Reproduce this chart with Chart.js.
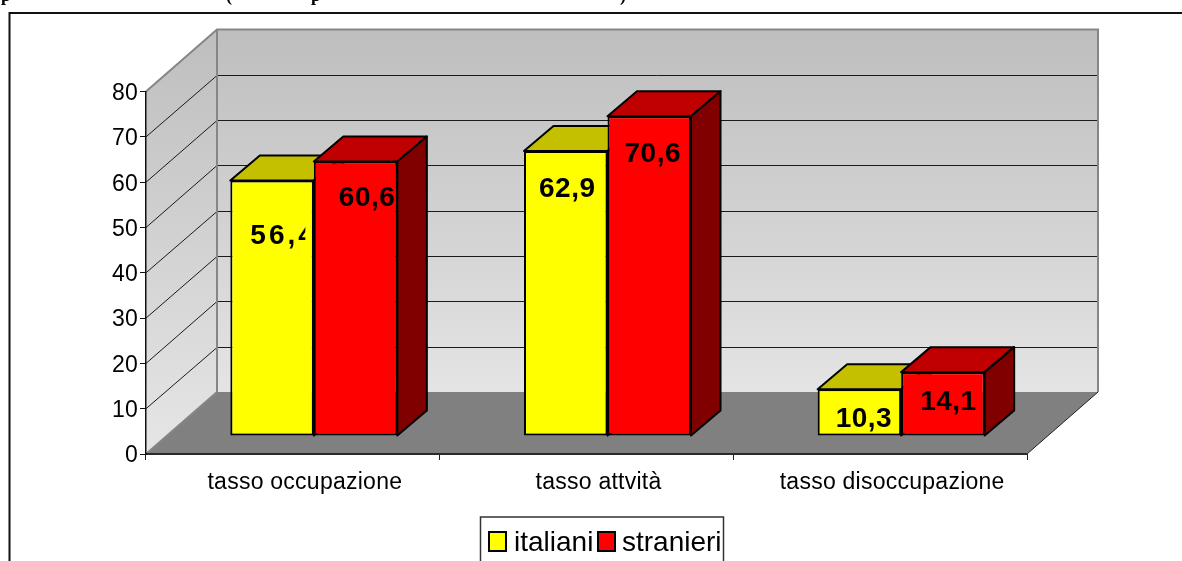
<!DOCTYPE html>
<html>
<head>
<meta charset="utf-8">
<style>
html,body{margin:0;padding:0;background:#fff;overflow:hidden}
#wrap{position:relative;width:1182px;height:561px}
canvas{display:block}
</style>
<script src="https://cdn.jsdelivr.net/npm/chart.js@4"></script>
</head>
<body>
<div id="wrap"><canvas id="c" width="1182" height="561"></canvas></div>
<script>
const categories = ['tasso occupazione', 'tasso attvità', 'tasso disoccupazione'];
const italiani = [56.4, 62.9, 10.3];
const stranieri = [60.6, 70.6, 14.1];
const yTicks = [0, 10, 20, 30, 40, 50, 60, 70, 80];

// label placement inside each bar: [from bar left, from bar top, letter spacing, clip width]
const labelPlacement = [
  [[20, 63, 3, 75], [15, 46, 0.5, 0], [18, 38, 0.5, 0]],
  [[25, 45, 0.5, 0], [17, 46, 0.5, 0], [19, 38, 0.5, 0]]
];
const faceColors = [
  {top: '#c4c000', side: '#808000'},
  {top: '#c00000', side: '#800000'}
];
// depth of the room and of the bars, and the shift of the bar row on the floor
const ROOM = {dx: 71, dy: -62};
const BAR = {dx: 29.5, dy: -25};
const ROW = {dx: 21, dy: -18};

function poly(ctx, pts, fill, stroke, lw) {
  ctx.beginPath();
  pts.forEach((p, i) => i ? ctx.lineTo(p[0], p[1]) : ctx.moveTo(p[0], p[1]));
  ctx.closePath();
  if (fill) { ctx.fillStyle = fill; ctx.fill(); }
  if (stroke) { ctx.strokeStyle = stroke; ctx.lineWidth = lw || 1; ctx.stroke(); }
}

// one series: its top and side faces, then the library's own bars as front faces
function drawSeries(chart, index) {
  const {ctx} = chart;
  const meta = chart.getDatasetMeta(index);
  const colors = faceColors[index];
  ctx.save();
  ctx.translate(ROW.dx, ROW.dy);
  ctx.lineJoin = 'round';
  meta.data.forEach(el => {
    const l = el.x - el.width / 2, r = el.x + el.width / 2, t = el.y, b = el.base;
    poly(ctx, [[l, t], [l + BAR.dx, t + BAR.dy], [r + BAR.dx, t + BAR.dy], [r, t]], colors.top, '#000', 2);
    poly(ctx, [[r, t], [r + BAR.dx, t + BAR.dy], [r + BAR.dx, b + BAR.dy], [r, b]], colors.side, '#000', 2);
  });
  meta.controller.draw();
  ctx.restore();
}

const room3d = {
  id: 'room3d',
  beforeDraw(chart) {
    const {ctx, scales: {x, y}} = chart;
    const L = x.left, R = x.right, B = y.getPixelForValue(0), T = y.getPixelForValue(80);
    ctx.save();
    ctx.letterSpacing = '0px';
    ctx.fillStyle = '#fff';
    ctx.fillRect(0, 0, chart.width, chart.height);

    // outer frame (open on the right and at the bottom)
    ctx.strokeStyle = '#111';
    ctx.lineWidth = 2;
    ctx.beginPath();
    ctx.moveTo(9.5, 561); ctx.lineTo(9.5, 13); ctx.lineTo(1182, 13);
    ctx.stroke();

    // clipped heading above the frame
    ctx.fillStyle = '#000';
    ctx.font = 'bold 18px "Liberation Serif"';
    ctx.textBaseline = 'alphabetic';
    ctx.textAlign = 'left';
    [['p', 1], ['(', 226], ['p', 311], [')', 620]].forEach(h => ctx.fillText(h[0], h[1], 0.5));

    const g = ctx.createLinearGradient(0, T + ROOM.dy, 0, B + ROOM.dy);
    g.addColorStop(0, '#bebebe');
    g.addColorStop(1, '#e4e4e4');
    const g2 = ctx.createLinearGradient(0, T + ROOM.dy, 0, B);
    g2.addColorStop(0, '#bebebe');
    g2.addColorStop(1, '#e6e6e6');

    // back wall, side wall, floor
    poly(ctx, [[L + ROOM.dx, T + ROOM.dy], [R + ROOM.dx, T + ROOM.dy], [R + ROOM.dx, B + ROOM.dy], [L + ROOM.dx, B + ROOM.dy]], g);
    poly(ctx, [[L, T], [L + ROOM.dx, T + ROOM.dy], [L + ROOM.dx, B + ROOM.dy], [L, B]], g2);

    // grid lines on both walls
    ctx.strokeStyle = '#1a1a1a';
    ctx.lineWidth = 1;
    y.ticks.forEach(t => {
      if (t.value === 0 || t.value === 80) return;
      const py = y.getPixelForValue(t.value);
      const by = Math.round(py + ROOM.dy) + 0.5;
      ctx.beginPath();
      ctx.moveTo(L, py);
      ctx.lineTo(L + ROOM.dx, by);
      ctx.lineTo(R + ROOM.dx, by);
      ctx.stroke();
    });

    poly(ctx, [[L, B], [L + ROOM.dx, B + ROOM.dy], [R + ROOM.dx, B + ROOM.dy], [R, B]], '#808080');

    // room edges
    ctx.strokeStyle = '#868686';
    ctx.lineWidth = 2;
    ctx.beginPath();
    ctx.moveTo(L, T);
    ctx.lineTo(L + ROOM.dx, T + ROOM.dy);
    ctx.lineTo(R + ROOM.dx, T + ROOM.dy);
    ctx.lineTo(R + ROOM.dx, B + ROOM.dy);
    ctx.moveTo(L + ROOM.dx, T + ROOM.dy);
    ctx.lineTo(L + ROOM.dx, B + ROOM.dy);
    ctx.lineTo(L, B);
    ctx.stroke();
    ctx.strokeStyle = '#222';
    ctx.lineWidth = 1;
    ctx.beginPath();
    ctx.moveTo(R, B);
    ctx.lineTo(R + ROOM.dx, B + ROOM.dy);
    ctx.stroke();
    ctx.restore();
    ctx.letterSpacing = '0.25px';
  },
  // the library paints the left series last; here the right one must sit in front
  beforeDatasetDraw() {
    return false;
  },
  afterDatasetsDraw(chart) {
    const {ctx} = chart;
    [0, 1].forEach(ds => drawSeries(chart, ds));
    [0, 1].forEach(ds => {
      const meta = chart.getDatasetMeta(ds);
      meta.data.forEach((el, i) => {
        const [fromLeft, fromTop, spacing, clipW] = labelPlacement[ds][i];
        const left = el.x - el.width / 2 + ROW.dx;
        const top = el.y + ROW.dy;
        const text = chart.data.datasets[ds].data[i].toFixed(1).replace('.', ',');
        ctx.save();
        if (clipW) { ctx.beginPath(); ctx.rect(left, top, clipW, el.base - el.y); ctx.clip(); }
        ctx.letterSpacing = spacing + 'px';
        ctx.font = 'bold 28px "Liberation Sans"';
        ctx.fillStyle = '#000';
        ctx.textAlign = 'left';
        ctx.textBaseline = 'alphabetic';
        ctx.fillText(text, left + fromLeft, top + fromTop);
        ctx.restore();
      });
    });
  },
  afterDraw(chart) {
    const {ctx} = chart;
    ctx.save();
    ctx.letterSpacing = '0px';
    ctx.fillStyle = '#fff';
    ctx.fillRect(480, 517, 243, 50);
    ctx.strokeStyle = '#333';
    ctx.lineWidth = 1.5;
    ctx.strokeRect(480.5, 517, 243, 50);
    ctx.font = '28px "Liberation Sans"';
    ctx.textBaseline = 'alphabetic';
    ctx.textAlign = 'left';
    const items = [[489, 514], [598, 622]];
    chart.data.datasets.forEach((d, i) => {
      ctx.fillStyle = d.backgroundColor;
      ctx.fillRect(items[i][0], 532, 17, 19);
      ctx.strokeStyle = '#000';
      ctx.lineWidth = 2;
      ctx.strokeRect(items[i][0], 532, 17, 19);
      ctx.fillStyle = '#000';
      ctx.fillText(d.label, items[i][1], 551);
    });
    ctx.restore();
  }
};

new Chart(document.getElementById('c'), {
  type: 'bar',
  data: {
    labels: categories,
    datasets: [
      {label: 'italiani', data: italiani, backgroundColor: '#ffff00', borderColor: '#000', borderWidth: 2, borderSkipped: false},
      {label: 'stranieri', data: stranieri, backgroundColor: '#ff0000', borderColor: '#000', borderWidth: 2, borderSkipped: false}
    ]
  },
  plugins: [room3d],
  options: {
    responsive: false,
    animation: false,
    layout: {padding: {left: 0, right: 155, top: 91.6, bottom: 0}},
    datasets: {bar: {barPercentage: 1, categoryPercentage: 0.5687}},
    plugins: {legend: {display: false}, title: {display: false}, tooltip: {enabled: false}},
    scales: {
      x: {
        afterFit(s) { s.height = 107; },
        grid: {drawOnChartArea: false, offset: true, color: '#222', tickLength: 6, tickColor: '#222', lineWidth: 1},
        border: {color: '#2a2a2a', width: 2},
        ticks: {color: '#000', font: {family: '"Liberation Sans"', size: 23}, padding: 9, labelOffset: 12, maxRotation: 0, autoSkip: false}
      },
      y: {
        min: 0,
        max: 80,
        afterFit(s) { s.width = 146; },
        afterBuildTicks(s) { s.ticks = yTicks.map(v => ({value: v})); },
        grid: {drawOnChartArea: false, color: '#111', tickLength: 6, tickColor: '#111'},
        border: {color: '#111', width: 1.5},
        ticks: {color: '#000', font: {family: '"Liberation Sans"', size: 23}, padding: 2, labelOffset: 2}
      }
    }
  }
});
</script>
</body>
</html>
